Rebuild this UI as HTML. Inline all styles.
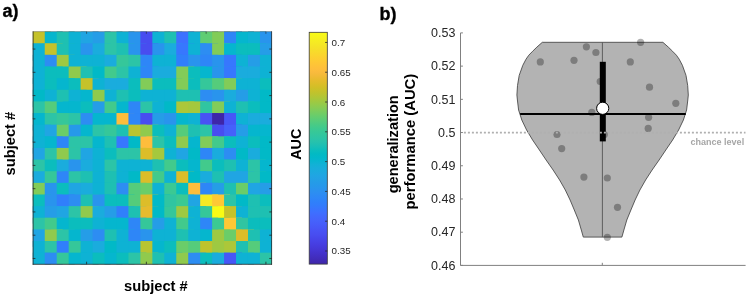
<!DOCTYPE html>
<html><head><meta charset="utf-8"><style>
html,body{margin:0;padding:0;background:#fff;width:749px;height:297px;overflow:hidden;font-family:"Liberation Sans", sans-serif;}
svg{display:block;will-change:transform;}
</style></head><body><svg width="749" height="297" viewBox="0 0 749 297" font-family='"Liberation Sans", sans-serif'><defs><linearGradient id="cb" x1="0" y1="1" x2="0" y2="0"><stop offset="0.0000" stop-color="#3e26a8"/><stop offset="0.0159" stop-color="#402ab4"/><stop offset="0.0317" stop-color="#422ec0"/><stop offset="0.0476" stop-color="#4332cb"/><stop offset="0.0635" stop-color="#4537d5"/><stop offset="0.0794" stop-color="#463cde"/><stop offset="0.0952" stop-color="#4741e5"/><stop offset="0.1111" stop-color="#4747eb"/><stop offset="0.1270" stop-color="#484df0"/><stop offset="0.1429" stop-color="#4852f4"/><stop offset="0.1587" stop-color="#4758f7"/><stop offset="0.1746" stop-color="#465efa"/><stop offset="0.1905" stop-color="#4563fc"/><stop offset="0.2063" stop-color="#4269fd"/><stop offset="0.2222" stop-color="#3e6fff"/><stop offset="0.2381" stop-color="#3875fe"/><stop offset="0.2540" stop-color="#327cfc"/><stop offset="0.2698" stop-color="#2f81fa"/><stop offset="0.2857" stop-color="#2e87f7"/><stop offset="0.3016" stop-color="#2d8cf3"/><stop offset="0.3175" stop-color="#2b91ef"/><stop offset="0.3333" stop-color="#2797eb"/><stop offset="0.3492" stop-color="#259be8"/><stop offset="0.3651" stop-color="#23a0e5"/><stop offset="0.3810" stop-color="#20a5e3"/><stop offset="0.3968" stop-color="#1ca9df"/><stop offset="0.4127" stop-color="#18addb"/><stop offset="0.4286" stop-color="#12b1d6"/><stop offset="0.4444" stop-color="#08b5d0"/><stop offset="0.4603" stop-color="#01b8ca"/><stop offset="0.4762" stop-color="#02bac3"/><stop offset="0.4921" stop-color="#0bbdbd"/><stop offset="0.5079" stop-color="#19bfb6"/><stop offset="0.5238" stop-color="#24c1ae"/><stop offset="0.5397" stop-color="#2cc4a7"/><stop offset="0.5556" stop-color="#31c69f"/><stop offset="0.5714" stop-color="#37c897"/><stop offset="0.5873" stop-color="#3fca8e"/><stop offset="0.6032" stop-color="#4acb84"/><stop offset="0.6190" stop-color="#57cc7a"/><stop offset="0.6349" stop-color="#64cd6f"/><stop offset="0.6508" stop-color="#72cd64"/><stop offset="0.6667" stop-color="#81cc59"/><stop offset="0.6825" stop-color="#8fcb4e"/><stop offset="0.6984" stop-color="#9dc943"/><stop offset="0.7143" stop-color="#abc739"/><stop offset="0.7302" stop-color="#b9c431"/><stop offset="0.7460" stop-color="#c5c22a"/><stop offset="0.7619" stop-color="#d1bf27"/><stop offset="0.7778" stop-color="#dcbd29"/><stop offset="0.7937" stop-color="#e6bb2d"/><stop offset="0.8095" stop-color="#f0ba36"/><stop offset="0.8254" stop-color="#f8ba3d"/><stop offset="0.8413" stop-color="#febe3c"/><stop offset="0.8571" stop-color="#fec338"/><stop offset="0.8730" stop-color="#fec934"/><stop offset="0.8889" stop-color="#fccf30"/><stop offset="0.9048" stop-color="#fad62d"/><stop offset="0.9206" stop-color="#f7dc2a"/><stop offset="0.9365" stop-color="#f5e327"/><stop offset="0.9524" stop-color="#f5e924"/><stop offset="0.9683" stop-color="#f6ef20"/><stop offset="0.9841" stop-color="#f7f51b"/><stop offset="1.0000" stop-color="#f9fb15"/></linearGradient></defs><rect x="0" y="0" width="749" height="297" fill="#fff"/><rect x="32.80" y="31.60" width="17.93" height="17.45" fill="#c5c22a"/><rect x="44.75" y="31.60" width="17.93" height="17.45" fill="#05b6ce"/><rect x="56.71" y="31.60" width="17.93" height="17.45" fill="#1ec0b2"/><rect x="68.66" y="31.60" width="17.93" height="17.45" fill="#0eb2d4"/><rect x="80.62" y="31.60" width="17.93" height="17.45" fill="#20a5e3"/><rect x="92.57" y="31.60" width="17.93" height="17.45" fill="#259de7"/><rect x="104.53" y="31.60" width="17.93" height="17.45" fill="#2cc4a7"/><rect x="116.48" y="31.60" width="17.93" height="17.45" fill="#0eb2d4"/><rect x="128.44" y="31.60" width="17.93" height="17.45" fill="#2994ed"/><rect x="140.39" y="31.60" width="17.93" height="17.45" fill="#484df0"/><rect x="152.35" y="31.60" width="17.93" height="17.45" fill="#0eb2d4"/><rect x="164.31" y="31.60" width="17.93" height="17.45" fill="#1ec0b2"/><rect x="176.26" y="31.60" width="17.93" height="17.45" fill="#3c71ff"/><rect x="188.21" y="31.60" width="17.93" height="17.45" fill="#0eb2d4"/><rect x="200.17" y="31.60" width="17.93" height="17.45" fill="#60cd73"/><rect x="212.12" y="31.60" width="17.93" height="17.45" fill="#82cc58"/><rect x="224.08" y="31.60" width="17.93" height="17.45" fill="#2e86f7"/><rect x="236.03" y="31.60" width="17.93" height="17.45" fill="#05b6ce"/><rect x="247.99" y="31.60" width="17.93" height="17.45" fill="#0eb2d4"/><rect x="259.94" y="31.60" width="11.95" height="17.45" fill="#2994ed"/><rect x="32.80" y="43.23" width="17.93" height="17.45" fill="#0eb2d4"/><rect x="44.75" y="43.23" width="17.93" height="17.45" fill="#c5c22a"/><rect x="56.71" y="43.23" width="17.93" height="17.45" fill="#1ec0b2"/><rect x="68.66" y="43.23" width="17.93" height="17.45" fill="#0eb2d4"/><rect x="80.62" y="43.23" width="17.93" height="17.45" fill="#2994ed"/><rect x="92.57" y="43.23" width="17.93" height="17.45" fill="#1aacdd"/><rect x="104.53" y="43.23" width="17.93" height="17.45" fill="#2cc4a7"/><rect x="116.48" y="43.23" width="17.93" height="17.45" fill="#1ec0b2"/><rect x="128.44" y="43.23" width="17.93" height="17.45" fill="#2994ed"/><rect x="140.39" y="43.23" width="17.93" height="17.45" fill="#484df0"/><rect x="152.35" y="43.23" width="17.93" height="17.45" fill="#2994ed"/><rect x="164.31" y="43.23" width="17.93" height="17.45" fill="#1aacdd"/><rect x="176.26" y="43.23" width="17.93" height="17.45" fill="#3777fe"/><rect x="188.21" y="43.23" width="17.93" height="17.45" fill="#0eb2d4"/><rect x="200.17" y="43.23" width="17.93" height="17.45" fill="#2d8df2"/><rect x="212.12" y="43.23" width="17.93" height="17.45" fill="#82cc58"/><rect x="224.08" y="43.23" width="17.93" height="17.45" fill="#05b6ce"/><rect x="236.03" y="43.23" width="17.93" height="17.45" fill="#0bbdbd"/><rect x="247.99" y="43.23" width="17.93" height="17.45" fill="#0bbdbd"/><rect x="259.94" y="43.23" width="11.95" height="17.45" fill="#259de7"/><rect x="32.80" y="54.87" width="17.93" height="17.45" fill="#0eb2d4"/><rect x="44.75" y="54.87" width="17.93" height="17.45" fill="#2d8df2"/><rect x="56.71" y="54.87" width="17.93" height="17.45" fill="#9ec942"/><rect x="68.66" y="54.87" width="17.93" height="17.45" fill="#0eb2d4"/><rect x="80.62" y="54.87" width="17.93" height="17.45" fill="#0eb2d4"/><rect x="92.57" y="54.87" width="17.93" height="17.45" fill="#0eb2d4"/><rect x="104.53" y="54.87" width="17.93" height="17.45" fill="#1aacdd"/><rect x="116.48" y="54.87" width="17.93" height="17.45" fill="#35c79a"/><rect x="128.44" y="54.87" width="17.93" height="17.45" fill="#2cc4a7"/><rect x="140.39" y="54.87" width="17.93" height="17.45" fill="#2e86f7"/><rect x="152.35" y="54.87" width="17.93" height="17.45" fill="#0eb2d4"/><rect x="164.31" y="54.87" width="17.93" height="17.45" fill="#0eb2d4"/><rect x="176.26" y="54.87" width="17.93" height="17.45" fill="#307ffb"/><rect x="188.21" y="54.87" width="17.93" height="17.45" fill="#2994ed"/><rect x="200.17" y="54.87" width="17.93" height="17.45" fill="#2e86f7"/><rect x="212.12" y="54.87" width="17.93" height="17.45" fill="#2994ed"/><rect x="224.08" y="54.87" width="17.93" height="17.45" fill="#3777fe"/><rect x="236.03" y="54.87" width="17.93" height="17.45" fill="#0eb2d4"/><rect x="247.99" y="54.87" width="17.93" height="17.45" fill="#259de7"/><rect x="259.94" y="54.87" width="11.95" height="17.45" fill="#0eb2d4"/><rect x="32.80" y="66.50" width="17.93" height="17.45" fill="#0eb2d4"/><rect x="44.75" y="66.50" width="17.93" height="17.45" fill="#0bbdbd"/><rect x="56.71" y="66.50" width="17.93" height="17.45" fill="#0bbdbd"/><rect x="68.66" y="66.50" width="17.93" height="17.45" fill="#90ca4d"/><rect x="80.62" y="66.50" width="17.93" height="17.45" fill="#1ec0b2"/><rect x="92.57" y="66.50" width="17.93" height="17.45" fill="#01b9c7"/><rect x="104.53" y="66.50" width="17.93" height="17.45" fill="#42ca8c"/><rect x="116.48" y="66.50" width="17.93" height="17.45" fill="#2cc4a7"/><rect x="128.44" y="66.50" width="17.93" height="17.45" fill="#0eb2d4"/><rect x="140.39" y="66.50" width="17.93" height="17.45" fill="#2e86f7"/><rect x="152.35" y="66.50" width="17.93" height="17.45" fill="#1aacdd"/><rect x="164.31" y="66.50" width="17.93" height="17.45" fill="#1aacdd"/><rect x="176.26" y="66.50" width="17.93" height="17.45" fill="#82cc58"/><rect x="188.21" y="66.50" width="17.93" height="17.45" fill="#0bbdbd"/><rect x="200.17" y="66.50" width="17.93" height="17.45" fill="#05b6ce"/><rect x="212.12" y="66.50" width="17.93" height="17.45" fill="#2994ed"/><rect x="224.08" y="66.50" width="17.93" height="17.45" fill="#3777fe"/><rect x="236.03" y="66.50" width="17.93" height="17.45" fill="#1aacdd"/><rect x="247.99" y="66.50" width="17.93" height="17.45" fill="#1aacdd"/><rect x="259.94" y="66.50" width="11.95" height="17.45" fill="#0eb2d4"/><rect x="32.80" y="78.14" width="17.93" height="17.45" fill="#0eb2d4"/><rect x="44.75" y="78.14" width="17.93" height="17.45" fill="#0bbdbd"/><rect x="56.71" y="78.14" width="17.93" height="17.45" fill="#05b6ce"/><rect x="68.66" y="78.14" width="17.93" height="17.45" fill="#0bbdbd"/><rect x="80.62" y="78.14" width="17.93" height="17.45" fill="#c5c22a"/><rect x="92.57" y="78.14" width="17.93" height="17.45" fill="#0eb2d4"/><rect x="104.53" y="78.14" width="17.93" height="17.45" fill="#1aacdd"/><rect x="116.48" y="78.14" width="17.93" height="17.45" fill="#1aacdd"/><rect x="128.44" y="78.14" width="17.93" height="17.45" fill="#0bbdbd"/><rect x="140.39" y="78.14" width="17.93" height="17.45" fill="#82cc58"/><rect x="152.35" y="78.14" width="17.93" height="17.45" fill="#0bbdbd"/><rect x="164.31" y="78.14" width="17.93" height="17.45" fill="#0bbdbd"/><rect x="176.26" y="78.14" width="17.93" height="17.45" fill="#82cc58"/><rect x="188.21" y="78.14" width="17.93" height="17.45" fill="#0bbdbd"/><rect x="200.17" y="78.14" width="17.93" height="17.45" fill="#35c79a"/><rect x="212.12" y="78.14" width="17.93" height="17.45" fill="#55cc7b"/><rect x="224.08" y="78.14" width="17.93" height="17.45" fill="#82cc58"/><rect x="236.03" y="78.14" width="17.93" height="17.45" fill="#0eb2d4"/><rect x="247.99" y="78.14" width="17.93" height="17.45" fill="#0eb2d4"/><rect x="259.94" y="78.14" width="11.95" height="17.45" fill="#0bbdbd"/><rect x="32.80" y="89.78" width="17.93" height="17.45" fill="#01b9c7"/><rect x="44.75" y="89.78" width="17.93" height="17.45" fill="#0eb2d4"/><rect x="56.71" y="89.78" width="17.93" height="17.45" fill="#1ec0b2"/><rect x="68.66" y="89.78" width="17.93" height="17.45" fill="#0eb2d4"/><rect x="80.62" y="89.78" width="17.93" height="17.45" fill="#05b6ce"/><rect x="92.57" y="89.78" width="17.93" height="17.45" fill="#90ca4d"/><rect x="104.53" y="89.78" width="17.93" height="17.45" fill="#0eb2d4"/><rect x="116.48" y="89.78" width="17.93" height="17.45" fill="#1ec0b2"/><rect x="128.44" y="89.78" width="17.93" height="17.45" fill="#0bbdbd"/><rect x="140.39" y="89.78" width="17.93" height="17.45" fill="#0eb2d4"/><rect x="152.35" y="89.78" width="17.93" height="17.45" fill="#0eb2d4"/><rect x="164.31" y="89.78" width="17.93" height="17.45" fill="#0eb2d4"/><rect x="176.26" y="89.78" width="17.93" height="17.45" fill="#1ec0b2"/><rect x="188.21" y="89.78" width="17.93" height="17.45" fill="#1ec0b2"/><rect x="200.17" y="89.78" width="17.93" height="17.45" fill="#2d8df2"/><rect x="212.12" y="89.78" width="17.93" height="17.45" fill="#2994ed"/><rect x="224.08" y="89.78" width="17.93" height="17.45" fill="#1aacdd"/><rect x="236.03" y="89.78" width="17.93" height="17.45" fill="#259de7"/><rect x="247.99" y="89.78" width="17.93" height="17.45" fill="#0eb2d4"/><rect x="259.94" y="89.78" width="11.95" height="17.45" fill="#01b9c7"/><rect x="32.80" y="101.41" width="17.93" height="17.45" fill="#2cc4a7"/><rect x="44.75" y="101.41" width="17.93" height="17.45" fill="#55cc7b"/><rect x="56.71" y="101.41" width="17.93" height="17.45" fill="#05b6ce"/><rect x="68.66" y="101.41" width="17.93" height="17.45" fill="#05b6ce"/><rect x="80.62" y="101.41" width="17.93" height="17.45" fill="#0bbdbd"/><rect x="92.57" y="101.41" width="17.93" height="17.45" fill="#259de7"/><rect x="104.53" y="101.41" width="17.93" height="17.45" fill="#42ca8c"/><rect x="116.48" y="101.41" width="17.93" height="17.45" fill="#05b6ce"/><rect x="128.44" y="101.41" width="17.93" height="17.45" fill="#2e86f7"/><rect x="140.39" y="101.41" width="17.93" height="17.45" fill="#2cc4a7"/><rect x="152.35" y="101.41" width="17.93" height="17.45" fill="#0eb2d4"/><rect x="164.31" y="101.41" width="17.93" height="17.45" fill="#01b9c7"/><rect x="176.26" y="101.41" width="17.93" height="17.45" fill="#acc739"/><rect x="188.21" y="101.41" width="17.93" height="17.45" fill="#a5c83d"/><rect x="200.17" y="101.41" width="17.93" height="17.45" fill="#30c5a1"/><rect x="212.12" y="101.41" width="17.93" height="17.45" fill="#82cc58"/><rect x="224.08" y="101.41" width="17.93" height="17.45" fill="#0eb2d4"/><rect x="236.03" y="101.41" width="17.93" height="17.45" fill="#1ec0b2"/><rect x="247.99" y="101.41" width="17.93" height="17.45" fill="#0bbdbd"/><rect x="259.94" y="101.41" width="11.95" height="17.45" fill="#01b9c7"/><rect x="32.80" y="113.05" width="17.93" height="17.45" fill="#05b6ce"/><rect x="44.75" y="113.05" width="17.93" height="17.45" fill="#2cc4a7"/><rect x="56.71" y="113.05" width="17.93" height="17.45" fill="#35c79a"/><rect x="68.66" y="113.05" width="17.93" height="17.45" fill="#2cc4a7"/><rect x="80.62" y="113.05" width="17.93" height="17.45" fill="#2d8df2"/><rect x="92.57" y="113.05" width="17.93" height="17.45" fill="#05b6ce"/><rect x="104.53" y="113.05" width="17.93" height="17.45" fill="#05b6ce"/><rect x="116.48" y="113.05" width="17.93" height="17.45" fill="#febd3c"/><rect x="128.44" y="113.05" width="17.93" height="17.45" fill="#2e86f7"/><rect x="140.39" y="113.05" width="17.93" height="17.45" fill="#484df0"/><rect x="152.35" y="113.05" width="17.93" height="17.45" fill="#259de7"/><rect x="164.31" y="113.05" width="17.93" height="17.45" fill="#2994ed"/><rect x="176.26" y="113.05" width="17.93" height="17.45" fill="#05b6ce"/><rect x="188.21" y="113.05" width="17.93" height="17.45" fill="#0eb2d4"/><rect x="200.17" y="113.05" width="17.93" height="17.45" fill="#4852f4"/><rect x="212.12" y="113.05" width="17.93" height="17.45" fill="#3e26a8"/><rect x="224.08" y="113.05" width="17.93" height="17.45" fill="#4757f7"/><rect x="236.03" y="113.05" width="17.93" height="17.45" fill="#0eb2d4"/><rect x="247.99" y="113.05" width="17.93" height="17.45" fill="#1aacdd"/><rect x="259.94" y="113.05" width="11.95" height="17.45" fill="#1aacdd"/><rect x="32.80" y="124.68" width="17.93" height="17.45" fill="#0eb2d4"/><rect x="44.75" y="124.68" width="17.93" height="17.45" fill="#20a5e3"/><rect x="56.71" y="124.68" width="17.93" height="17.45" fill="#6acd69"/><rect x="68.66" y="124.68" width="17.93" height="17.45" fill="#2699ea"/><rect x="80.62" y="124.68" width="17.93" height="17.45" fill="#05b6ce"/><rect x="92.57" y="124.68" width="17.93" height="17.45" fill="#2cc4a7"/><rect x="104.53" y="124.68" width="17.93" height="17.45" fill="#35c79a"/><rect x="116.48" y="124.68" width="17.93" height="17.45" fill="#1ec0b2"/><rect x="128.44" y="124.68" width="17.93" height="17.45" fill="#b9c431"/><rect x="140.39" y="124.68" width="17.93" height="17.45" fill="#90ca4d"/><rect x="152.35" y="124.68" width="17.93" height="17.45" fill="#0bbdbd"/><rect x="164.31" y="124.68" width="17.93" height="17.45" fill="#0eb2d4"/><rect x="176.26" y="124.68" width="17.93" height="17.45" fill="#55cc7b"/><rect x="188.21" y="124.68" width="17.93" height="17.45" fill="#1ec0b2"/><rect x="200.17" y="124.68" width="17.93" height="17.45" fill="#2cc4a7"/><rect x="212.12" y="124.68" width="17.93" height="17.45" fill="#484df0"/><rect x="224.08" y="124.68" width="17.93" height="17.45" fill="#4561fb"/><rect x="236.03" y="124.68" width="17.93" height="17.45" fill="#259de7"/><rect x="247.99" y="124.68" width="17.93" height="17.45" fill="#05b6ce"/><rect x="259.94" y="124.68" width="11.95" height="17.45" fill="#05b6ce"/><rect x="32.80" y="136.32" width="17.93" height="17.45" fill="#0eb2d4"/><rect x="44.75" y="136.32" width="17.93" height="17.45" fill="#05b6ce"/><rect x="56.71" y="136.32" width="17.93" height="17.45" fill="#2e86f7"/><rect x="68.66" y="136.32" width="17.93" height="17.45" fill="#2cc4a7"/><rect x="80.62" y="136.32" width="17.93" height="17.45" fill="#2cc4a7"/><rect x="92.57" y="136.32" width="17.93" height="17.45" fill="#05b6ce"/><rect x="104.53" y="136.32" width="17.93" height="17.45" fill="#1ec0b2"/><rect x="116.48" y="136.32" width="17.93" height="17.45" fill="#3777fe"/><rect x="128.44" y="136.32" width="17.93" height="17.45" fill="#01b9c7"/><rect x="140.39" y="136.32" width="17.93" height="17.45" fill="#febd3c"/><rect x="152.35" y="136.32" width="17.93" height="17.45" fill="#2cc4a7"/><rect x="164.31" y="136.32" width="17.93" height="17.45" fill="#0bbdbd"/><rect x="176.26" y="136.32" width="17.93" height="17.45" fill="#90ca4d"/><rect x="188.21" y="136.32" width="17.93" height="17.45" fill="#05b6ce"/><rect x="200.17" y="136.32" width="17.93" height="17.45" fill="#82cc58"/><rect x="212.12" y="136.32" width="17.93" height="17.45" fill="#42ca8c"/><rect x="224.08" y="136.32" width="17.93" height="17.45" fill="#0bbdbd"/><rect x="236.03" y="136.32" width="17.93" height="17.45" fill="#0eb2d4"/><rect x="247.99" y="136.32" width="17.93" height="17.45" fill="#0bbdbd"/><rect x="259.94" y="136.32" width="11.95" height="17.45" fill="#01b9c7"/><rect x="32.80" y="147.95" width="17.93" height="17.45" fill="#20a5e3"/><rect x="44.75" y="147.95" width="17.93" height="17.45" fill="#2cc4a7"/><rect x="56.71" y="147.95" width="17.93" height="17.45" fill="#90ca4d"/><rect x="68.66" y="147.95" width="17.93" height="17.45" fill="#2cc4a7"/><rect x="80.62" y="147.95" width="17.93" height="17.45" fill="#20a5e3"/><rect x="92.57" y="147.95" width="17.93" height="17.45" fill="#0eb2d4"/><rect x="104.53" y="147.95" width="17.93" height="17.45" fill="#0bbdbd"/><rect x="116.48" y="147.95" width="17.93" height="17.45" fill="#2cc4a7"/><rect x="128.44" y="147.95" width="17.93" height="17.45" fill="#2cc4a7"/><rect x="140.39" y="147.95" width="17.93" height="17.45" fill="#dcbd29"/><rect x="152.35" y="147.95" width="17.93" height="17.45" fill="#a5c83d"/><rect x="164.31" y="147.95" width="17.93" height="17.45" fill="#0eb2d4"/><rect x="176.26" y="147.95" width="17.93" height="17.45" fill="#20a5e3"/><rect x="188.21" y="147.95" width="17.93" height="17.45" fill="#01b9c7"/><rect x="200.17" y="147.95" width="17.93" height="17.45" fill="#2e86f7"/><rect x="212.12" y="147.95" width="17.93" height="17.45" fill="#1aacdd"/><rect x="224.08" y="147.95" width="17.93" height="17.45" fill="#2d8df2"/><rect x="236.03" y="147.95" width="17.93" height="17.45" fill="#01b9c7"/><rect x="247.99" y="147.95" width="17.93" height="17.45" fill="#1aacdd"/><rect x="259.94" y="147.95" width="11.95" height="17.45" fill="#01b9c7"/><rect x="32.80" y="159.59" width="17.93" height="17.45" fill="#2cc4a7"/><rect x="44.75" y="159.59" width="17.93" height="17.45" fill="#0bbdbd"/><rect x="56.71" y="159.59" width="17.93" height="17.45" fill="#1aacdd"/><rect x="68.66" y="159.59" width="17.93" height="17.45" fill="#2994ed"/><rect x="80.62" y="159.59" width="17.93" height="17.45" fill="#1aacdd"/><rect x="92.57" y="159.59" width="17.93" height="17.45" fill="#0eb2d4"/><rect x="104.53" y="159.59" width="17.93" height="17.45" fill="#2cc4a7"/><rect x="116.48" y="159.59" width="17.93" height="17.45" fill="#0eb2d4"/><rect x="128.44" y="159.59" width="17.93" height="17.45" fill="#0eb2d4"/><rect x="140.39" y="159.59" width="17.93" height="17.45" fill="#0eb2d4"/><rect x="152.35" y="159.59" width="17.93" height="17.45" fill="#1ec0b2"/><rect x="164.31" y="159.59" width="17.93" height="17.45" fill="#42ca8c"/><rect x="176.26" y="159.59" width="17.93" height="17.45" fill="#0bbdbd"/><rect x="188.21" y="159.59" width="17.93" height="17.45" fill="#05b6ce"/><rect x="200.17" y="159.59" width="17.93" height="17.45" fill="#42ca8c"/><rect x="212.12" y="159.59" width="17.93" height="17.45" fill="#0bbdbd"/><rect x="224.08" y="159.59" width="17.93" height="17.45" fill="#1ec0b2"/><rect x="236.03" y="159.59" width="17.93" height="17.45" fill="#0eb2d4"/><rect x="247.99" y="159.59" width="17.93" height="17.45" fill="#2cc4a7"/><rect x="259.94" y="159.59" width="11.95" height="17.45" fill="#05b6ce"/><rect x="32.80" y="171.22" width="17.93" height="17.45" fill="#1aacdd"/><rect x="44.75" y="171.22" width="17.93" height="17.45" fill="#35c79a"/><rect x="56.71" y="171.22" width="17.93" height="17.45" fill="#2e86f7"/><rect x="68.66" y="171.22" width="17.93" height="17.45" fill="#2cc4a7"/><rect x="80.62" y="171.22" width="17.93" height="17.45" fill="#1ec0b2"/><rect x="92.57" y="171.22" width="17.93" height="17.45" fill="#0eb2d4"/><rect x="104.53" y="171.22" width="17.93" height="17.45" fill="#1ec0b2"/><rect x="116.48" y="171.22" width="17.93" height="17.45" fill="#0eb2d4"/><rect x="128.44" y="171.22" width="17.93" height="17.45" fill="#01b9c7"/><rect x="140.39" y="171.22" width="17.93" height="17.45" fill="#dcbd29"/><rect x="152.35" y="171.22" width="17.93" height="17.45" fill="#42ca8c"/><rect x="164.31" y="171.22" width="17.93" height="17.45" fill="#0eb2d4"/><rect x="176.26" y="171.22" width="17.93" height="17.45" fill="#dcbd29"/><rect x="188.21" y="171.22" width="17.93" height="17.45" fill="#01b9c7"/><rect x="200.17" y="171.22" width="17.93" height="17.45" fill="#1aacdd"/><rect x="212.12" y="171.22" width="17.93" height="17.45" fill="#1ec0b2"/><rect x="224.08" y="171.22" width="17.93" height="17.45" fill="#20a5e3"/><rect x="236.03" y="171.22" width="17.93" height="17.45" fill="#20a5e3"/><rect x="247.99" y="171.22" width="17.93" height="17.45" fill="#2cc4a7"/><rect x="259.94" y="171.22" width="11.95" height="17.45" fill="#01b9c7"/><rect x="32.80" y="182.86" width="17.93" height="17.45" fill="#82cc58"/><rect x="44.75" y="182.86" width="17.93" height="17.45" fill="#2994ed"/><rect x="56.71" y="182.86" width="17.93" height="17.45" fill="#0bbdbd"/><rect x="68.66" y="182.86" width="17.93" height="17.45" fill="#20a5e3"/><rect x="80.62" y="182.86" width="17.93" height="17.45" fill="#1aacdd"/><rect x="92.57" y="182.86" width="17.93" height="17.45" fill="#0eb2d4"/><rect x="104.53" y="182.86" width="17.93" height="17.45" fill="#1ec0b2"/><rect x="116.48" y="182.86" width="17.93" height="17.45" fill="#2d8df2"/><rect x="128.44" y="182.86" width="17.93" height="17.45" fill="#55cc7b"/><rect x="140.39" y="182.86" width="17.93" height="17.45" fill="#6acd69"/><rect x="152.35" y="182.86" width="17.93" height="17.45" fill="#0eb2d4"/><rect x="164.31" y="182.86" width="17.93" height="17.45" fill="#3bc993"/><rect x="176.26" y="182.86" width="17.93" height="17.45" fill="#0bbdbd"/><rect x="188.21" y="182.86" width="17.93" height="17.45" fill="#febd3c"/><rect x="200.17" y="182.86" width="17.93" height="17.45" fill="#2e86f7"/><rect x="212.12" y="182.86" width="17.93" height="17.45" fill="#259de7"/><rect x="224.08" y="182.86" width="17.93" height="17.45" fill="#1ec0b2"/><rect x="236.03" y="182.86" width="17.93" height="17.45" fill="#6acd69"/><rect x="247.99" y="182.86" width="17.93" height="17.45" fill="#20a5e3"/><rect x="259.94" y="182.86" width="11.95" height="17.45" fill="#259de7"/><rect x="32.80" y="194.49" width="17.93" height="17.45" fill="#0bbdbd"/><rect x="44.75" y="194.49" width="17.93" height="17.45" fill="#2994ed"/><rect x="56.71" y="194.49" width="17.93" height="17.45" fill="#307ffb"/><rect x="68.66" y="194.49" width="17.93" height="17.45" fill="#2d8df2"/><rect x="80.62" y="194.49" width="17.93" height="17.45" fill="#1ec0b2"/><rect x="92.57" y="194.49" width="17.93" height="17.45" fill="#2994ed"/><rect x="104.53" y="194.49" width="17.93" height="17.45" fill="#0bbdbd"/><rect x="116.48" y="194.49" width="17.93" height="17.45" fill="#0bbdbd"/><rect x="128.44" y="194.49" width="17.93" height="17.45" fill="#55cc7b"/><rect x="140.39" y="194.49" width="17.93" height="17.45" fill="#dcbd29"/><rect x="152.35" y="194.49" width="17.93" height="17.45" fill="#01b9c7"/><rect x="164.31" y="194.49" width="17.93" height="17.45" fill="#30c5a1"/><rect x="176.26" y="194.49" width="17.93" height="17.45" fill="#3bc993"/><rect x="188.21" y="194.49" width="17.93" height="17.45" fill="#20a5e3"/><rect x="200.17" y="194.49" width="17.93" height="17.45" fill="#f5e924"/><rect x="212.12" y="194.49" width="17.93" height="17.45" fill="#fec835"/><rect x="224.08" y="194.49" width="17.93" height="17.45" fill="#2cc4a7"/><rect x="236.03" y="194.49" width="17.93" height="17.45" fill="#01b9c7"/><rect x="247.99" y="194.49" width="17.93" height="17.45" fill="#1ec0b2"/><rect x="259.94" y="194.49" width="11.95" height="17.45" fill="#0bbdbd"/><rect x="32.80" y="206.13" width="17.93" height="17.45" fill="#0eb2d4"/><rect x="44.75" y="206.13" width="17.93" height="17.45" fill="#259de7"/><rect x="56.71" y="206.13" width="17.93" height="17.45" fill="#20a5e3"/><rect x="68.66" y="206.13" width="17.93" height="17.45" fill="#2cc4a7"/><rect x="80.62" y="206.13" width="17.93" height="17.45" fill="#90ca4d"/><rect x="92.57" y="206.13" width="17.93" height="17.45" fill="#1aacdd"/><rect x="104.53" y="206.13" width="17.93" height="17.45" fill="#259de7"/><rect x="116.48" y="206.13" width="17.93" height="17.45" fill="#307ffb"/><rect x="128.44" y="206.13" width="17.93" height="17.45" fill="#1ec0b2"/><rect x="140.39" y="206.13" width="17.93" height="17.45" fill="#e6bb2d"/><rect x="152.35" y="206.13" width="17.93" height="17.45" fill="#01b9c7"/><rect x="164.31" y="206.13" width="17.93" height="17.45" fill="#35c79a"/><rect x="176.26" y="206.13" width="17.93" height="17.45" fill="#9ec942"/><rect x="188.21" y="206.13" width="17.93" height="17.45" fill="#0eb2d4"/><rect x="200.17" y="206.13" width="17.93" height="17.45" fill="#35c79a"/><rect x="212.12" y="206.13" width="17.93" height="17.45" fill="#f9fb15"/><rect x="224.08" y="206.13" width="17.93" height="17.45" fill="#c5c22a"/><rect x="236.03" y="206.13" width="17.93" height="17.45" fill="#0eb2d4"/><rect x="247.99" y="206.13" width="17.93" height="17.45" fill="#1ec0b2"/><rect x="259.94" y="206.13" width="11.95" height="17.45" fill="#1ec0b2"/><rect x="32.80" y="217.76" width="17.93" height="17.45" fill="#2cc4a7"/><rect x="44.75" y="217.76" width="17.93" height="17.45" fill="#42ca8c"/><rect x="56.71" y="217.76" width="17.93" height="17.45" fill="#05b6ce"/><rect x="68.66" y="217.76" width="17.93" height="17.45" fill="#0bbdbd"/><rect x="80.62" y="217.76" width="17.93" height="17.45" fill="#0bbdbd"/><rect x="92.57" y="217.76" width="17.93" height="17.45" fill="#0eb2d4"/><rect x="104.53" y="217.76" width="17.93" height="17.45" fill="#05b6ce"/><rect x="116.48" y="217.76" width="17.93" height="17.45" fill="#05b6ce"/><rect x="128.44" y="217.76" width="17.93" height="17.45" fill="#2e86f7"/><rect x="140.39" y="217.76" width="17.93" height="17.45" fill="#35c79a"/><rect x="152.35" y="217.76" width="17.93" height="17.45" fill="#259de7"/><rect x="164.31" y="217.76" width="17.93" height="17.45" fill="#0eb2d4"/><rect x="176.26" y="217.76" width="17.93" height="17.45" fill="#42ca8c"/><rect x="188.21" y="217.76" width="17.93" height="17.45" fill="#0eb2d4"/><rect x="200.17" y="217.76" width="17.93" height="17.45" fill="#2e86f7"/><rect x="212.12" y="217.76" width="17.93" height="17.45" fill="#3bc993"/><rect x="224.08" y="217.76" width="17.93" height="17.45" fill="#fec835"/><rect x="236.03" y="217.76" width="17.93" height="17.45" fill="#30c5a1"/><rect x="247.99" y="217.76" width="17.93" height="17.45" fill="#0bbdbd"/><rect x="259.94" y="217.76" width="11.95" height="17.45" fill="#0bbdbd"/><rect x="32.80" y="229.40" width="17.93" height="17.45" fill="#20a5e3"/><rect x="44.75" y="229.40" width="17.93" height="17.45" fill="#90ca4d"/><rect x="56.71" y="229.40" width="17.93" height="17.45" fill="#2cc4a7"/><rect x="68.66" y="229.40" width="17.93" height="17.45" fill="#05b6ce"/><rect x="80.62" y="229.40" width="17.93" height="17.45" fill="#259de7"/><rect x="92.57" y="229.40" width="17.93" height="17.45" fill="#2d8df2"/><rect x="104.53" y="229.40" width="17.93" height="17.45" fill="#1ec0b2"/><rect x="116.48" y="229.40" width="17.93" height="17.45" fill="#0eb2d4"/><rect x="128.44" y="229.40" width="17.93" height="17.45" fill="#2e86f7"/><rect x="140.39" y="229.40" width="17.93" height="17.45" fill="#2994ed"/><rect x="152.35" y="229.40" width="17.93" height="17.45" fill="#0eb2d4"/><rect x="164.31" y="229.40" width="17.93" height="17.45" fill="#0eb2d4"/><rect x="176.26" y="229.40" width="17.93" height="17.45" fill="#1ec0b2"/><rect x="188.21" y="229.40" width="17.93" height="17.45" fill="#0eb2d4"/><rect x="200.17" y="229.40" width="17.93" height="17.45" fill="#05b6ce"/><rect x="212.12" y="229.40" width="17.93" height="17.45" fill="#9ec942"/><rect x="224.08" y="229.40" width="17.93" height="17.45" fill="#6acd69"/><rect x="236.03" y="229.40" width="17.93" height="17.45" fill="#dcbd29"/><rect x="247.99" y="229.40" width="17.93" height="17.45" fill="#1ec0b2"/><rect x="259.94" y="229.40" width="11.95" height="17.45" fill="#0eb2d4"/><rect x="32.80" y="241.03" width="17.93" height="17.45" fill="#0eb2d4"/><rect x="44.75" y="241.03" width="17.93" height="17.45" fill="#2cc4a7"/><rect x="56.71" y="241.03" width="17.93" height="17.45" fill="#307ffb"/><rect x="68.66" y="241.03" width="17.93" height="17.45" fill="#35c79a"/><rect x="80.62" y="241.03" width="17.93" height="17.45" fill="#0eb2d4"/><rect x="92.57" y="241.03" width="17.93" height="17.45" fill="#1aacdd"/><rect x="104.53" y="241.03" width="17.93" height="17.45" fill="#01b9c7"/><rect x="116.48" y="241.03" width="17.93" height="17.45" fill="#0eb2d4"/><rect x="128.44" y="241.03" width="17.93" height="17.45" fill="#0eb2d4"/><rect x="140.39" y="241.03" width="17.93" height="17.45" fill="#b9c431"/><rect x="152.35" y="241.03" width="17.93" height="17.45" fill="#05b6ce"/><rect x="164.31" y="241.03" width="17.93" height="17.45" fill="#0bbdbd"/><rect x="176.26" y="241.03" width="17.93" height="17.45" fill="#6acd69"/><rect x="188.21" y="241.03" width="17.93" height="17.45" fill="#55cc7b"/><rect x="200.17" y="241.03" width="17.93" height="17.45" fill="#bfc32d"/><rect x="212.12" y="241.03" width="17.93" height="17.45" fill="#9ec942"/><rect x="224.08" y="241.03" width="17.93" height="17.45" fill="#acc739"/><rect x="236.03" y="241.03" width="17.93" height="17.45" fill="#1ec0b2"/><rect x="247.99" y="241.03" width="17.93" height="17.45" fill="#55cc7b"/><rect x="259.94" y="241.03" width="11.95" height="17.45" fill="#0eb2d4"/><rect x="32.80" y="252.67" width="17.93" height="11.63" fill="#0eb2d4"/><rect x="44.75" y="252.67" width="17.93" height="11.63" fill="#2d8df2"/><rect x="56.71" y="252.67" width="17.93" height="11.63" fill="#35c79a"/><rect x="68.66" y="252.67" width="17.93" height="11.63" fill="#05b6ce"/><rect x="80.62" y="252.67" width="17.93" height="11.63" fill="#0eb2d4"/><rect x="92.57" y="252.67" width="17.93" height="11.63" fill="#0bbdbd"/><rect x="104.53" y="252.67" width="17.93" height="11.63" fill="#05b6ce"/><rect x="116.48" y="252.67" width="17.93" height="11.63" fill="#0bbdbd"/><rect x="128.44" y="252.67" width="17.93" height="11.63" fill="#2cc4a7"/><rect x="140.39" y="252.67" width="17.93" height="11.63" fill="#90ca4d"/><rect x="152.35" y="252.67" width="17.93" height="11.63" fill="#1ec0b2"/><rect x="164.31" y="252.67" width="17.93" height="11.63" fill="#0eb2d4"/><rect x="176.26" y="252.67" width="17.93" height="11.63" fill="#90ca4d"/><rect x="188.21" y="252.67" width="17.93" height="11.63" fill="#2d8df2"/><rect x="200.17" y="252.67" width="17.93" height="11.63" fill="#0bbdbd"/><rect x="212.12" y="252.67" width="17.93" height="11.63" fill="#1aacdd"/><rect x="224.08" y="252.67" width="17.93" height="11.63" fill="#4757f7"/><rect x="236.03" y="252.67" width="17.93" height="11.63" fill="#0eb2d4"/><rect x="247.99" y="252.67" width="17.93" height="11.63" fill="#0eb2d4"/><rect x="259.94" y="252.67" width="11.95" height="11.63" fill="#2cc4a7"/><line x1="32.8" y1="49.05" x2="35.4" y2="49.05" stroke="#262626" stroke-width="0.8"/><line x1="271.9" y1="49.05" x2="269.29999999999995" y2="49.05" stroke="#262626" stroke-width="0.8"/><line x1="32.8" y1="72.32" x2="35.4" y2="72.32" stroke="#262626" stroke-width="0.8"/><line x1="271.9" y1="72.32" x2="269.29999999999995" y2="72.32" stroke="#262626" stroke-width="0.8"/><line x1="32.8" y1="95.59" x2="35.4" y2="95.59" stroke="#262626" stroke-width="0.8"/><line x1="271.9" y1="95.59" x2="269.29999999999995" y2="95.59" stroke="#262626" stroke-width="0.8"/><line x1="32.8" y1="118.86" x2="35.4" y2="118.86" stroke="#262626" stroke-width="0.8"/><line x1="271.9" y1="118.86" x2="269.29999999999995" y2="118.86" stroke="#262626" stroke-width="0.8"/><line x1="32.8" y1="142.13" x2="35.4" y2="142.13" stroke="#262626" stroke-width="0.8"/><line x1="271.9" y1="142.13" x2="269.29999999999995" y2="142.13" stroke="#262626" stroke-width="0.8"/><line x1="32.8" y1="165.40" x2="35.4" y2="165.40" stroke="#262626" stroke-width="0.8"/><line x1="271.9" y1="165.40" x2="269.29999999999995" y2="165.40" stroke="#262626" stroke-width="0.8"/><line x1="32.8" y1="188.67" x2="35.4" y2="188.67" stroke="#262626" stroke-width="0.8"/><line x1="271.9" y1="188.67" x2="269.29999999999995" y2="188.67" stroke="#262626" stroke-width="0.8"/><line x1="32.8" y1="211.94" x2="35.4" y2="211.94" stroke="#262626" stroke-width="0.8"/><line x1="271.9" y1="211.94" x2="269.29999999999995" y2="211.94" stroke="#262626" stroke-width="0.8"/><line x1="32.8" y1="235.21" x2="35.4" y2="235.21" stroke="#262626" stroke-width="0.8"/><line x1="271.9" y1="235.21" x2="269.29999999999995" y2="235.21" stroke="#262626" stroke-width="0.8"/><line x1="32.8" y1="258.48" x2="35.4" y2="258.48" stroke="#262626" stroke-width="0.8"/><line x1="271.9" y1="258.48" x2="269.29999999999995" y2="258.48" stroke="#262626" stroke-width="0.8"/><line x1="86.60" y1="31.6" x2="86.60" y2="33.800000000000004" stroke="#262626" stroke-width="0.8" stroke-opacity="0.75"/><line x1="86.60" y1="264.3" x2="86.60" y2="261.7" stroke="#262626" stroke-width="0.8"/><line x1="146.37" y1="31.6" x2="146.37" y2="33.800000000000004" stroke="#262626" stroke-width="0.8" stroke-opacity="0.75"/><line x1="146.37" y1="264.3" x2="146.37" y2="261.7" stroke="#262626" stroke-width="0.8"/><line x1="206.15" y1="31.6" x2="206.15" y2="33.800000000000004" stroke="#262626" stroke-width="0.8" stroke-opacity="0.75"/><line x1="206.15" y1="264.3" x2="206.15" y2="261.7" stroke="#262626" stroke-width="0.8"/><line x1="265.92" y1="31.6" x2="265.92" y2="33.800000000000004" stroke="#262626" stroke-width="0.8" stroke-opacity="0.75"/><line x1="265.92" y1="264.3" x2="265.92" y2="261.7" stroke="#262626" stroke-width="0.8"/><line x1="33.1" y1="31.400000000000002" x2="33.1" y2="264.7" stroke="#262626" stroke-width="0.8"/><line x1="271.6" y1="31.400000000000002" x2="271.6" y2="264.7" stroke="#262626" stroke-width="0.8"/><line x1="32.7" y1="264.3" x2="272" y2="264.3" stroke="#262626" stroke-width="0.8"/><line x1="32.7" y1="31.6" x2="272" y2="31.6" stroke="#262626" stroke-width="0.6" stroke-opacity="0.55"/><rect x="309.2" y="32.3" width="18.10" height="231.80" fill="url(#cb)" stroke="#3a3a3a" stroke-width="0.8"/><line x1="327.3" y1="250.99" x2="325.1" y2="250.99" stroke="#262626" stroke-width="0.8"/><text x="331.6" y="254.49" font-size="9.8" fill="#262626">0.35</text><line x1="327.3" y1="221.20" x2="325.1" y2="221.20" stroke="#262626" stroke-width="0.8"/><text x="331.6" y="224.70" font-size="9.8" fill="#262626">0.4</text><line x1="327.3" y1="191.40" x2="325.1" y2="191.40" stroke="#262626" stroke-width="0.8"/><text x="331.6" y="194.90" font-size="9.8" fill="#262626">0.45</text><line x1="327.3" y1="161.61" x2="325.1" y2="161.61" stroke="#262626" stroke-width="0.8"/><text x="331.6" y="165.11" font-size="9.8" fill="#262626">0.5</text><line x1="327.3" y1="131.81" x2="325.1" y2="131.81" stroke="#262626" stroke-width="0.8"/><text x="331.6" y="135.31" font-size="9.8" fill="#262626">0.55</text><line x1="327.3" y1="102.02" x2="325.1" y2="102.02" stroke="#262626" stroke-width="0.8"/><text x="331.6" y="105.52" font-size="9.8" fill="#262626">0.6</text><line x1="327.3" y1="72.22" x2="325.1" y2="72.22" stroke="#262626" stroke-width="0.8"/><text x="331.6" y="75.72" font-size="9.8" fill="#262626">0.65</text><line x1="327.3" y1="42.43" x2="325.1" y2="42.43" stroke="#262626" stroke-width="0.8"/><text x="331.6" y="45.93" font-size="9.8" fill="#262626">0.7</text><text transform="translate(301.2,144.2) rotate(-90)" text-anchor="middle" font-size="14.4" font-weight="bold" fill="#000">AUC</text><text x="2.4" y="16.6" font-size="18" font-weight="bold" fill="#000" stroke="#000" stroke-width="0.35">a)</text><text x="379.4" y="19.6" font-size="18" font-weight="bold" fill="#000" stroke="#000" stroke-width="0.35">b)</text><text x="155.9" y="290.8" text-anchor="middle" font-size="14.7" font-weight="bold" fill="#000">subject #</text><text transform="translate(14.8,143.6) rotate(-90)" text-anchor="middle" font-size="14.7" font-weight="bold" fill="#000">subject #</text><text x="690.6" y="144.7" font-size="9" font-weight="bold" fill="#a6a6a6">chance level</text><path d="M 542.30 42.30 L 536.90 47.10 L 532.70 51.20 L 528.80 55.20 L 526.00 59.20 L 522.80 65.30 L 519.20 75.40 L 517.50 85.50 L 516.90 95.00 L 517.40 100.00 L 518.60 110.00 L 521.80 120.00 L 526.60 130.00 L 532.60 140.00 L 539.40 150.00 L 546.10 160.00 L 553.10 170.00 L 559.60 180.00 L 565.30 190.00 L 570.10 200.00 L 574.30 210.00 L 578.40 220.00 L 581.30 230.00 L 583.30 237.10 L 621.90 237.10 L 623.90 230.00 L 626.80 220.00 L 630.90 210.00 L 635.10 200.00 L 639.90 190.00 L 645.60 180.00 L 652.10 170.00 L 659.10 160.00 L 665.80 150.00 L 672.60 140.00 L 678.60 130.00 L 683.40 120.00 L 686.60 110.00 L 687.80 100.00 L 688.30 95.00 L 687.70 85.50 L 686.00 75.40 L 682.40 65.30 L 679.20 59.20 L 676.40 55.20 L 672.50 51.20 L 668.30 47.10 L 662.90 42.30 Z" fill="#b3b3b3" stroke="#3a3a3a" stroke-width="0.8"/><line x1="602.4" y1="42.3" x2="602.4" y2="237.1" stroke="#555" stroke-width="0.9"/><circle cx="540.3" cy="61.9" r="3.6" fill="#000" fill-opacity="0.3"/><circle cx="574" cy="60.3" r="3.6" fill="#000" fill-opacity="0.3"/><circle cx="586.4" cy="46.8" r="3.6" fill="#000" fill-opacity="0.3"/><circle cx="595.9" cy="52.5" r="3.6" fill="#000" fill-opacity="0.3"/><circle cx="600.2" cy="81.5" r="3.6" fill="#000" fill-opacity="0.3"/><circle cx="591.8" cy="112.4" r="3.6" fill="#000" fill-opacity="0.3"/><circle cx="557.0" cy="134.5" r="3.6" fill="#000" fill-opacity="0.3"/><circle cx="640.6" cy="42.3" r="3.6" fill="#000" fill-opacity="0.3"/><circle cx="630.3" cy="61.9" r="3.6" fill="#000" fill-opacity="0.3"/><circle cx="649.5" cy="87.2" r="3.6" fill="#000" fill-opacity="0.3"/><circle cx="675.8" cy="103.3" r="3.6" fill="#000" fill-opacity="0.3"/><circle cx="648.6" cy="117.3" r="3.6" fill="#000" fill-opacity="0.3"/><circle cx="648.2" cy="128.4" r="3.6" fill="#000" fill-opacity="0.3"/><circle cx="561.7" cy="148.6" r="3.6" fill="#000" fill-opacity="0.3"/><circle cx="604.3" cy="134.6" r="3.6" fill="#000" fill-opacity="0.3"/><circle cx="583.9" cy="177.1" r="3.6" fill="#000" fill-opacity="0.3"/><circle cx="607.3" cy="178" r="3.6" fill="#000" fill-opacity="0.3"/><circle cx="617.5" cy="207.3" r="3.6" fill="#000" fill-opacity="0.3"/><circle cx="607.3" cy="237.3" r="3.6" fill="#000" fill-opacity="0.3"/><line x1="520.1" y1="113.9" x2="685.8000000000001" y2="113.9" stroke="#000" stroke-width="2"/><rect x="599.8" y="61.8" width="6" height="79.6" fill="#000"/><circle cx="602.7" cy="108.3" r="6.1" fill="#fff" stroke="#000" stroke-width="1"/><line x1="463.9" y1="132.7" x2="745.5" y2="132.7" stroke="#b0b0b0" stroke-width="1.8" stroke-dasharray="2 2"/><line x1="460.5" y1="32.9" x2="460.5" y2="265.4" stroke="#808080" stroke-width="1"/><line x1="460.5" y1="265.4" x2="745.6" y2="265.4" stroke="#808080" stroke-width="1"/><line x1="460.5" y1="265.40" x2="462.9" y2="265.40" stroke="#808080" stroke-width="1"/><text x="455.4" y="269.70" text-anchor="end" font-size="12.5" fill="#262626">0.46</text><line x1="460.5" y1="232.19" x2="462.9" y2="232.19" stroke="#808080" stroke-width="1"/><text x="455.4" y="236.49" text-anchor="end" font-size="12.5" fill="#262626">0.47</text><line x1="460.5" y1="198.97" x2="462.9" y2="198.97" stroke="#808080" stroke-width="1"/><text x="455.4" y="203.27" text-anchor="end" font-size="12.5" fill="#262626">0.48</text><line x1="460.5" y1="165.76" x2="462.9" y2="165.76" stroke="#808080" stroke-width="1"/><text x="455.4" y="170.06" text-anchor="end" font-size="12.5" fill="#262626">0.49</text><line x1="460.5" y1="132.54" x2="462.9" y2="132.54" stroke="#808080" stroke-width="1"/><text x="455.4" y="136.84" text-anchor="end" font-size="12.5" fill="#262626">0.5</text><line x1="460.5" y1="99.33" x2="462.9" y2="99.33" stroke="#808080" stroke-width="1"/><text x="455.4" y="103.63" text-anchor="end" font-size="12.5" fill="#262626">0.51</text><line x1="460.5" y1="66.12" x2="462.9" y2="66.12" stroke="#808080" stroke-width="1"/><text x="455.4" y="70.42" text-anchor="end" font-size="12.5" fill="#262626">0.52</text><line x1="460.5" y1="32.90" x2="462.9" y2="32.90" stroke="#808080" stroke-width="1"/><text x="455.4" y="37.20" text-anchor="end" font-size="12.5" fill="#262626">0.53</text><line x1="602.3" y1="265.4" x2="602.3" y2="262.79999999999995" stroke="#808080" stroke-width="1"/><text transform="translate(397.8,144.3) rotate(-90)" text-anchor="middle" font-size="14.6" font-weight="bold" fill="#000">generalization</text><text transform="translate(415.4,141.6) rotate(-90)" text-anchor="middle" font-size="14.8" font-weight="bold" fill="#000">performance (AUC)</text></svg></body></html>
